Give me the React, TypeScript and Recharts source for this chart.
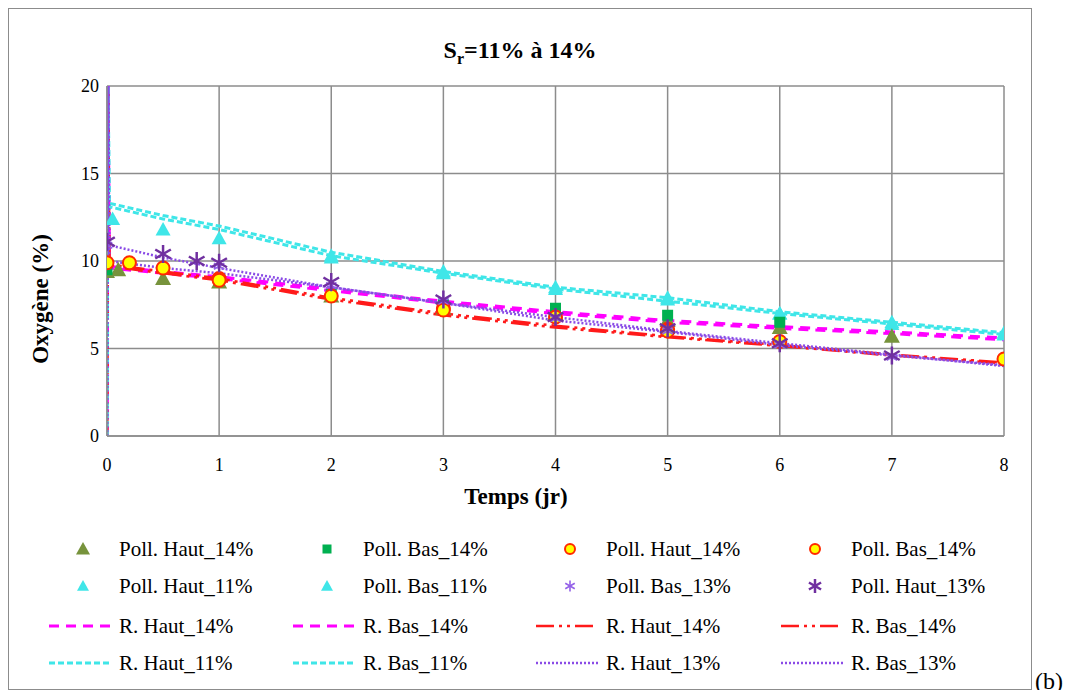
import { CartesianGrid, ComposedChart, Line, Scatter, XAxis, YAxis } from "recharts";

const serif = '"Liberation Serif", "DejaVu Serif", "Noto Serif", serif';

// mesures (jours, % O2)
const tPollHaut14 = [0, 0.1, 0.5, 1, 2, 3, 4, 5, 6, 7];
const oPollHaut14 = [9.4, 9.5, 9.0, 8.8, 8.0, 7.3, 7.0, 6.6, 6.2, 5.7];
const tPollBas14 = [0, 1, 2, 3, 4, 5, 6];
const oPollBas14 = [9.5, 8.9, 8.1, 7.5, 7.3, 6.9, 6.5];
const tRondHaut14 = [0, 0.2, 0.5, 1, 2, 3, 4, 5, 6];
const oRondHaut14 = [9.9, 9.9, 9.6, 9.0, 8.0, 7.3, 6.8, 6.1, 5.4];
const tRondBas14 = [1, 3, 5, 8];
const oRondBas14 = [8.9, 7.2, 6.0, 4.4];
const tPollHaut11 = [0.05, 0.5, 1, 2, 3, 4, 5, 6, 7, 8];
const oPollHaut11 = [12.4, 11.8, 11.3, 10.2, 9.3, 8.4, 7.9, 7.0, 6.4, 5.8];
const tPollBas11 = [2, 3, 4, 5, 6, 7, 8];
const oPollBas11 = [10.3, 9.4, 8.5, 7.8, 7.0, 6.5, 5.9];
const tPollBas13 = [0, 1, 2, 3, 4, 5, 6, 7];
const oPollBas13 = [10.9, 9.7, 8.6, 7.7, 6.7, 6.0, 5.2, 4.5];
const tPollHaut13 = [0, 0.5, 0.8, 1, 2, 3, 4, 5, 6, 7];
const oPollHaut13 = [11.1, 10.4, 10.0, 9.9, 8.8, 7.8, 6.8, 6.15, 5.3, 4.6];

// courbes du modèle
const tModele = [0, 0.01, 0.02, 0.5, 1, 2, 3, 4, 5, 6, 7, 8];
const rHaut14a = [0, 20, 9.7, 9.4, 9.1, 8.4, 7.7, 7.1, 6.6, 6.25, 5.95, 5.6];
const rBas14a = [0, 20, 9.6, 9.3, 9.0, 8.3, 7.6, 7.0, 6.5, 6.15, 5.85, 5.5];
const rHaut14b = [0, 20, 9.8, 9.4, 9.0, 7.9, 7.0, 6.3, 5.7, 5.2, 4.65, 4.2];
const rBas14b = [0, 20, 9.7, 9.3, 8.9, 7.8, 6.9, 6.2, 5.65, 5.15, 4.6, 4.15];
const rHaut11 = [0, 20, 13.3, 12.6, 12.0, 10.5, 9.4, 8.5, 7.9, 7.1, 6.5, 5.9];
const rBas11 = [0, 20, 13.1, 12.4, 11.8, 10.3, 9.3, 8.4, 7.7, 7.0, 6.4, 5.8];
const rHaut13 = [0, 20, 10.9, 10.2, 9.6, 8.5, 7.6, 6.6, 5.95, 5.2, 4.6, 4.05];
const rBas13 = [0, 20, 10.0, 9.6, 9.3, 8.5, 7.6, 6.8, 6.0, 5.3, 4.65, 4.0];

const xTicks = [0, 1, 2, 3, 4, 5, 6, 7, 8];
const yTicks = [0, 5, 10, 15, 20];

const pts = (ts: number[], os: number[]) => ts.map((t, i) => ({ t, o: os[i] }));

type Kind = "olive" | "square" | "circle" | "cyan" | "starSmall" | "starBig";

function Marker({ kind, x, y, s }: { kind: Kind; x: number; y: number; s: number }) {
  if (kind === "olive" || kind === "cyan") {
    const fill = kind === "olive" ? "#77933C" : "#3FE6E8";
    return (
      <polygon
        points={`${x},${y - s} ${x - s},${y + s * 0.8} ${x + s},${y + s * 0.8}`}
        fill={fill}
      />
    );
  }
  if (kind === "square") {
    return <rect x={x - s} y={y - s} width={s * 2} height={s * 2} fill="#00B050" />;
  }
  if (kind === "circle") {
    return <circle cx={x} cy={y} r={s} fill="#FFFF00" stroke="#FF2A00" strokeWidth={2} />;
  }
  const col = kind === "starBig" ? "#7030A0" : "#9461E8";
  const d = s * 0.87;
  return (
    <g stroke={col} strokeWidth={kind === "starBig" ? 2.5 : 1.6}>
      <line x1={x} y1={y - s} x2={x} y2={y + s} />
      <line x1={x - d} y1={y - s / 2} x2={x + d} y2={y + s / 2} />
      <line x1={x - d} y1={y + s / 2} x2={x + d} y2={y - s / 2} />
    </g>
  );
}

const lineStyles = {
  magenta: { stroke: "#FF00FF", dash: "10 7", width: 3 },
  red: { stroke: "#FF1A1A", dash: "18 5 3 5 3 5", width: 2.6 },
  cyan: { stroke: "#3FE6E8", dash: "6 3", width: 3 },
  purple: { stroke: "#8A4BE6", dash: "2 2", width: 2.5 },
};

const legendRows: { label: string; marker?: Kind; line?: keyof typeof lineStyles }[][] = [
  [
    { label: "Poll. Haut_14%", marker: "olive" },
    { label: "Poll. Bas_14%", marker: "square" },
    { label: "Poll. Haut_14%", marker: "circle" },
    { label: "Poll. Bas_14%", marker: "circle" },
  ],
  [
    { label: "Poll. Haut_11%", marker: "cyan" },
    { label: "Poll. Bas_11%", marker: "cyan" },
    { label: "Poll. Bas_13%", marker: "starSmall" },
    { label: "Poll. Haut_13%", marker: "starBig" },
  ],
  [
    { label: "R. Haut_14%", line: "magenta" },
    { label: "R. Bas_14%", line: "magenta" },
    { label: "R. Haut_14%", line: "red" },
    { label: "R. Bas_14%", line: "red" },
  ],
  [
    { label: "R. Haut_11%", line: "cyan" },
    { label: "R. Bas_11%", line: "cyan" },
    { label: "R. Haut_13%", line: "purple" },
    { label: "R. Bas_13%", line: "purple" },
  ],
];

const legendSizes: Record<Kind, number> = {
  olive: 7,
  square: 4.5,
  circle: 5,
  cyan: 6,
  starSmall: 5.5,
  starBig: 7,
};

const plotSizes: Record<Kind, number> = {
  olive: 8,
  square: 5.5,
  circle: 6.5,
  cyan: 7.5,
  starSmall: 6,
  starBig: 9,
};

function Legend() {
  const colText = [110, 354, 597, 842];
  const rowY = [540, 577, 617, 654];
  return (
    <svg
      width={1024}
      height={682}
      style={{ position: "absolute", left: 0, top: 0, pointerEvents: "none" }}
    >
      {legendRows.map((row, r) =>
        row.map((item, c) => {
          const tx = colText[c];
          const y = rowY[r];
          let sample = null;
          if (item.marker) {
            sample = (
              <Marker kind={item.marker} x={tx - 36} y={y} s={legendSizes[item.marker]} />
            );
          } else if (item.line) {
            const st = lineStyles[item.line];
            sample = (
              <line
                x1={tx - 70}
                x2={tx - 8}
                y1={y}
                y2={y}
                stroke={st.stroke}
                strokeWidth={st.width}
                strokeDasharray={st.dash}
              />
            );
          }
          return (
            <g key={`${r}-${c}`}>
              {sample}
              <text x={tx} y={y + 7} fontFamily={serif} fontSize={21} fill="#000">
                {item.label}
              </text>
            </g>
          );
        })
      )}
    </svg>
  );
}

export default function App() {
  const models: { key: string; data: number[]; style: keyof typeof lineStyles }[] = [
    { key: "R. Haut_14% a", data: rHaut14a, style: "magenta" },
    { key: "R. Bas_14% a", data: rBas14a, style: "magenta" },
    { key: "R. Haut_14% b", data: rHaut14b, style: "red" },
    { key: "R. Bas_14% b", data: rBas14b, style: "red" },
    { key: "R. Haut_11%", data: rHaut11, style: "cyan" },
    { key: "R. Bas_11%", data: rBas11, style: "cyan" },
    { key: "R. Haut_13%", data: rHaut13, style: "purple" },
    { key: "R. Bas_13%", data: rBas13, style: "purple" },
  ];
  const measures: { key: string; data: { t: number; o: number }[]; kind: Kind }[] = [
    { key: "Poll. Haut_11%", data: pts(tPollHaut11, oPollHaut11), kind: "cyan" },
    { key: "Poll. Bas_11%", data: pts(tPollBas11, oPollBas11), kind: "cyan" },
    { key: "Poll. Haut_14% t", data: pts(tPollHaut14, oPollHaut14), kind: "olive" },
    { key: "Poll. Bas_14% s", data: pts(tPollBas14, oPollBas14), kind: "square" },
    { key: "Poll. Haut_14% c", data: pts(tRondHaut14, oRondHaut14), kind: "circle" },
    { key: "Poll. Bas_14% c", data: pts(tRondBas14, oRondBas14), kind: "circle" },
    { key: "Poll. Bas_13%", data: pts(tPollBas13, oPollBas13), kind: "starSmall" },
    { key: "Poll. Haut_13%", data: pts(tPollHaut13, oPollHaut13), kind: "starBig" },
  ];

  return (
    <div style={{ position: "relative", width: 1070, height: 682, fontFamily: serif }}>
      <div
        style={{
          position: "absolute",
          left: 0,
          top: 0,
          width: 1022,
          height: 680,
          border: "1px solid #8c8c8c",
        }}
      >
        <div
          style={{
            position: "absolute",
            left: 0,
            top: 28,
            width: 1022,
            textAlign: "center",
            fontWeight: "bold",
            fontSize: 24,
          }}
        >
          S<sub style={{ fontSize: 16 }}>r</sub>=11% à 14%
        </div>
        <ComposedChart
          width={1022}
          height={500}
          margin={{ top: 77, right: 27, bottom: 13, left: 38 }}
        >
          <CartesianGrid stroke="#8c8c8c" strokeWidth={1.5} />
          <XAxis
            type="number"
            dataKey="t"
            domain={[0, 8]}
            ticks={xTicks}
            allowDataOverflow
            height={60}
            tickLine={false}
            tickMargin={16}
            axisLine={{ stroke: "#8c8c8c", strokeWidth: 1.5 }}
            tick={{ fill: "#000", fontSize: 18, fontFamily: serif }}
          />
          <YAxis
            type="number"
            dataKey="o"
            domain={[0, 20]}
            ticks={yTicks}
            width={60}
            tickLine={false}
            tickMargin={2}
            axisLine={{ stroke: "#8c8c8c", strokeWidth: 1.5 }}
            tick={{ fill: "#000", fontSize: 18, fontFamily: serif }}
          />
          {models.map((m) => (
            <Line
              key={m.key}
              data={pts(tModele, m.data)}
              dataKey="o"
              name={m.key}
              type="linear"
              stroke={lineStyles[m.style].stroke}
              strokeWidth={lineStyles[m.style].width}
              strokeDasharray={lineStyles[m.style].dash}
              dot={false}
              activeDot={false}
              isAnimationActive={false}
            />
          ))}
          {measures.map((m) => (
            <Scatter
              key={m.key}
              name={m.key}
              data={m.data}
              dataKey="o"
              isAnimationActive={false}
              shape={(p: any) => (
                <Marker kind={m.kind} x={p.cx} y={p.cy} s={plotSizes[m.kind]} />
              )}
            />
          ))}
        </ComposedChart>
        <div
          style={{
            position: "absolute",
            left: 507,
            top: 488,
            transform: "translate(-50%, -50%)",
            fontWeight: "bold",
            fontSize: 23,
            whiteSpace: "nowrap",
          }}
        >
          Temps (jr)
        </div>
        <div
          style={{
            position: "absolute",
            left: 32,
            top: 290,
            transform: "translate(-50%, -50%) rotate(-90deg)",
            fontWeight: "bold",
            fontSize: 23,
            whiteSpace: "nowrap",
          }}
        >
          Oxygène (%)
        </div>
        <Legend />
      </div>
      <div style={{ position: "absolute", left: 1027, top: 660, fontSize: 24 }}>(b)</div>
    </div>
  );
}
